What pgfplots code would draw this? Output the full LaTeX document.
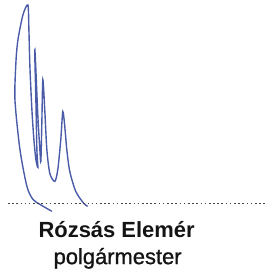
\documentclass[border=0pt]{standalone}
\usepackage{fontspec}
\setmainfont{Liberation Sans}
\newfontfamily\heavyreg[FakeBold=1.0]{Liberation Sans}
\usepackage{pgfplots}
\pgfplotsset{compat=1.18}
\definecolor{ink}{HTML}{4A5CA8}
\definecolor{dots}{HTML}{444444}
\definecolor{txt}{HTML}{141414}
\begin{document}
\begin{tikzpicture}
\begin{axis}[
  width=268pt, height=272pt, scale only axis,
  xmin=0, xmax=268, ymin=0, ymax=272,
  hide axis, clip=false,
]
\path (rel axis cs:0,0) rectangle (rel axis cs:1,1);
% signature stroke (x, 272 - pixel y)
\addplot[ink, line width=1.4pt, smooth, tension=0.45] coordinates {
(52,60) (40,67) (33,72) (27,85) (20,122) (15,172) (16,210) (18,232) (23,257) (28,267)
(29,242) (30,205) (32,162) (34,132) (36,112) (38,104)
(37,122) (36,172) (35,212) (35,222)
(36,202) (38,155) (40,122) (41,110)
(42,150) (43,192)
(45,160) (47,122) (50,98) (55,90)
(58,102) (61,132) (63,160)
(65,145) (67,122) (70,100) (76,80) (84,68) (88,65)
};
% dotted line
\addplot[dots, line width=1.4pt, dash pattern=on 1.6pt off 2.6pt] coordinates {(8,68) (268,68)};
\node[anchor=base, txt, font=\fontsize{22}{26}\selectfont\bfseries] at (axis cs:117,34) {Rózsás Elemér};
\node[anchor=base, txt, font=\fontsize{22}{26}\selectfont\heavyreg] at (axis cs:118,7) {polgármester};
\end{axis}
\end{tikzpicture}
\end{document}
